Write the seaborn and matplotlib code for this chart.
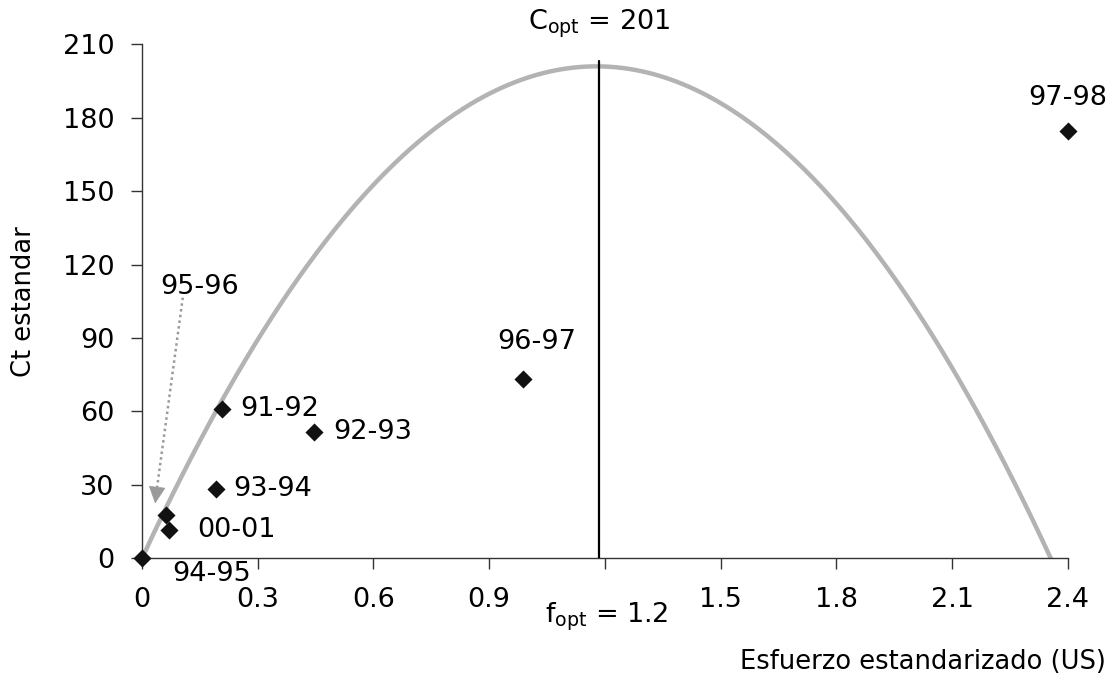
import numpy as np
import pandas as pd
import matplotlib
matplotlib.use("Agg")
import matplotlib.pyplot as plt
import matplotlib.transforms as mtransforms
import seaborn as sns

# ---- data ----
seasons = ["94-95", "95-96", "00-01", "93-94", "91-92", "92-93", "96-97", "97-98"]
effort = [0.0, 0.062, 0.070, 0.191, 0.207, 0.447, 0.988, 2.40]
catch = [0.0, 17.6, 11.6, 28.2, 60.9, 51.5, 73.3, 174.4]

# Schaefer production model parameters (shown on chart)
c_opt = 201.0
f_opt_curve = 1.178
f_opt_line = 1.186
f_opt_label = 1.2

x_ticks = [0, 0.3, 0.6, 0.9, 1.2, 1.5, 1.8, 2.1, 2.4]
x_tick_labels = ["0", "0.3", "0.6", "0.9", "", "1.5", "1.8", "2.1", "2.4"]
y_ticks = [0, 30, 60, 90, 120, 150, 180, 210]

# label offsets in pixels (dx, dy, ha, va)
label_pos = {
    "94-95": (30, -16, "left", "center"),
    "00-01": (28, 0, "left", "center"),
    "93-94": (18, 0, "left", "center"),
    "91-92": (18, 0, "left", "center"),
    "92-93": (19, 0, "left", "center"),
    "96-97": (14, 37, "center", "center"),
    "97-98": (0, 33, "center", "center"),
}

sns.set_theme(style="white")
plt.rcParams["font.family"] = ["DejaVu Sans"]
plt.rcParams["mathtext.default"] = "regular"
FS = 19.5
FS_LAB = 18.5

fig = plt.figure(figsize=(11.15, 6.81), dpi=100)
ax = fig.add_axes([0.1274, 0.1802, 0.8302, 0.7547])

# production curve
f_max = 2 * f_opt_curve
fc = np.linspace(0, f_max, 300)
cc = 4 * c_opt * (fc / f_max) * (1 - fc / f_max)
curve = pd.DataFrame({"f": fc, "c": cc})
sns.lineplot(data=curve, x="f", y="c", ax=ax, color="#b3b3b3", lw=3.2,
             sort=False, zorder=2)

# optimum line
ax.plot([f_opt_line, f_opt_line], [0, 203.3], color="black", lw=1.6, zorder=3)

# points
pts = pd.DataFrame({"season": seasons, "f": effort, "c": catch})
sns.scatterplot(data=pts, x="f", y="c", ax=ax, marker="D", s=85,
                color="#111111", edgecolor="#111111", linewidth=0,
                zorder=5, clip_on=False)
for coll in ax.collections:
    coll.set_clip_on(False)

for s, f, c in zip(seasons, effort, catch):
    if s in label_pos:
        dx, dy, ha, va = label_pos[s]
        ax.annotate(s, (f, c), xytext=(dx, dy), textcoords="offset pixels",
                    ha=ha, va=va, fontsize=FS, color="black",
                    annotation_clip=False)

# 95-96 label with dotted arrow
ax.text(0.047, 111, "95-96", ha="left", va="center", fontsize=FS, color="black")
ax.plot([0.1056, 0.039], [106.5, 29.0], color="#9a9a9a", lw=1.8,
        linestyle=(0, (1, 1.3)), zorder=4, clip_on=False)
ax.annotate("", xy=(0.034, 22.4), xytext=(0.039, 29.0),
            arrowprops=dict(arrowstyle="-|>", color="#9a9a9a", lw=0.5,
                            mutation_scale=28, shrinkA=0, shrinkB=0),
            annotation_clip=False)

ax.set_xlim(0, 2.4)
ax.set_ylim(0, 210)
ax.set_xticks(x_ticks)
ax.set_xticklabels(x_tick_labels)
ax.set_yticks(y_ticks)
ax.set_yticklabels([str(v) for v in y_ticks])
ax.tick_params(axis="both", direction="out", length=8, width=1,
               color="#333333", labelsize=FS, labelcolor="black",
               bottom=True, left=True)
ax.tick_params(axis="x", pad=13)
ax.tick_params(axis="y", pad=12)

for side in ["top", "right"]:
    ax.spines[side].set_visible(False)
for side in ["left", "bottom"]:
    ax.spines[side].set_color("#333333")
    ax.spines[side].set_linewidth(1)

ax.set_xlabel("")
ax.set_ylabel("Ct estandar", fontsize=FS_LAB, color="black")
ax.yaxis.set_label_coords(-0.113, 0.5)

fig.text(1106 / 1115, 1 - 662 / 681, "Esfuerzo estandarizado (US)",
         ha="right", va="center", fontsize=FS_LAB, color="black")

blend = mtransforms.blended_transform_factory(ax.transData, fig.transFigure)
ax.text(f_opt_line, 1 - 24 / 681, r"C$_{opt}$ = " + f"{c_opt:.0f}",
        transform=blend, ha="center", va="center", fontsize=FS, color="black")
fig.text(606 / 1115, 1 - 617 / 681, r"f$_{opt}$ = " + f"{f_opt_label}",
         ha="center", va="center", fontsize=FS, color="black")

fig.savefig("out.png", dpi=100)
